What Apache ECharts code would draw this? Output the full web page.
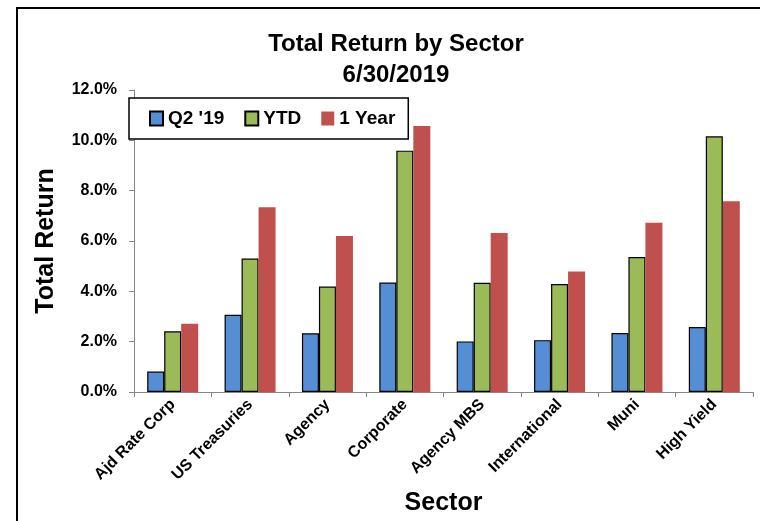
<!DOCTYPE html>
<html>
<head>
<meta charset="utf-8">
<script src="https://cdn.jsdelivr.net/npm/echarts@6/dist/echarts.min.js"></script>
<style>
  html, body { margin: 0; padding: 0; background: #fff; }
  #chart { width: 760px; height: 521px; }
</style>
</head>
<body>
<div id="chart"></div>
<script>
// 数据
const sectors = ['Ajd Rate Corp', 'US Treasuries', 'Agency', 'Corporate', 'Agency MBS', 'International', 'Muni', 'High Yield'];
const q2 = [0.81, 3.07, 2.33, 4.35, 2.01, 2.06, 2.34, 2.58];
const ytd = [2.41, 5.30, 4.19, 9.59, 4.34, 4.29, 5.36, 10.16];
const oneYear = [2.71, 7.34, 6.20, 10.57, 6.32, 4.79, 6.73, 7.58];

const font = "'Liberation Sans Narrow', 'Liberation Sans', sans-serif";
const myChart = echarts.init(document.getElementById('chart'));

option = {
  backgroundColor: '#fff',
  textStyle: { fontFamily: font },
  // 外框
  graphic: [{
    type: 'rect',
    shape: { x: 17, y: 8, width: 800, height: 600 },
    style: { fill: 'none', stroke: '#000', lineWidth: 2 },
    silent: true
  }],
  title: {
    text: 'Total Return by Sector\n6/30/2019',
    left: 391,
    textAlign: 'center',
    top: 24,
    textStyle: {
      fontFamily: font,
      fontSize: 24,
      fontWeight: 'bold',
      lineHeight: 31,
      color: '#000'
    }
  },
  legend: {
    data: ['Q2 \'19', 'YTD', '1 Year'],
    left: 129,
    top: 98,
    orient: 'horizontal',
    backgroundColor: '#fff',
    borderColor: '#000',
    borderWidth: 1.5,
    padding: [11, 13, 11, 20],
    itemGap: 20,
    itemWidth: 13,
    itemHeight: 14,
    icon: 'rect',
    textStyle: { fontFamily: font, fontSize: 19, fontWeight: 'bold', color: '#000' }
  },
  grid: {
    left: 134,
    right: 7,
    top: 90,
    bottom: 129,
    outerBoundsMode: 'none'
  },
  xAxis: {
    type: 'category',
    data: sectors,
    name: 'Sector',
    nameLocation: 'middle',
    nameGap: 94,
    nameTextStyle: { fontFamily: font, fontSize: 25, fontWeight: 'bold', color: '#000' },
    axisLine: { lineStyle: { color: '#868686', width: 1 } },
    axisTick: { show: true, length: 5, lineStyle: { color: '#868686' } },
    axisLabel: {
      rotate: 45,
      interval: 0,
      margin: 10,
      fontFamily: font,
      fontSize: 16,
      fontWeight: 'bold',
      color: '#000'
    }
  },
  yAxis: {
    type: 'value',
    min: 0,
    max: 12,
    interval: 2,
    name: 'Total Return',
    nameLocation: 'middle',
    nameGap: 75,
    nameTextStyle: { fontFamily: font, fontSize: 25, fontWeight: 'bold', color: '#000' },
    axisLine: { show: true, lineStyle: { color: '#868686', width: 1 } },
    axisTick: { show: true, length: 5, lineStyle: { color: '#868686' } },
    splitLine: { show: false },
    axisLabel: {
      margin: 17,
      fontFamily: font,
      fontSize: 16,
      fontWeight: 'bold',
      color: '#000',
      formatter: v => v.toFixed(1) + '%'
    }
  },
  series: [
    {
      name: 'Q2 \'19',
      type: 'bar',
      data: q2,
      barWidth: 17,
      barGap: '0%',
      itemStyle: { color: '#558ED5', borderColor: '#000', borderWidth: 1.2 }
    },
    {
      name: 'YTD',
      type: 'bar',
      data: ytd,
      barWidth: 17,
      barGap: '0%',
      itemStyle: { color: '#9BBB59', borderColor: '#000', borderWidth: 1.2 }
    },
    {
      name: '1 Year',
      type: 'bar',
      data: oneYear,
      barWidth: 17,
      barGap: '0%',
      itemStyle: { color: '#C0504D' }
    }
  ]
};

myChart.setOption(option);
</script>
</body>
</html>
